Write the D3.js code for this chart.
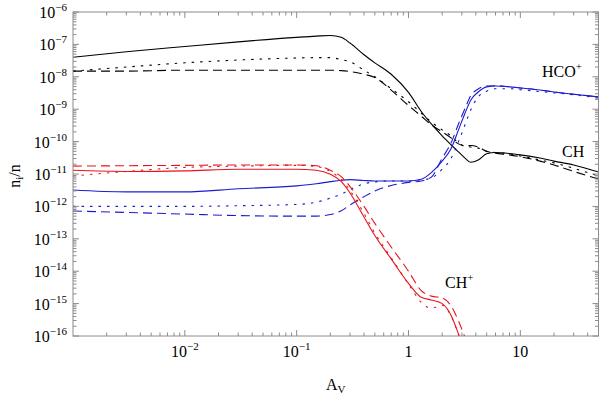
<!DOCTYPE html>
<html>
<head>
<meta charset="utf-8">
<script src="https://cdn.jsdelivr.net/npm/d3@7"></script>
<style>
  body { margin: 0; background: #fff; }
  text { font-family: "Liberation Serif", "DejaVu Serif", serif; fill: #000; }
</style>
</head>
<body>
<div id="chart"></div>
<script>
// ======================================
// Data
// ======================================
var avGrid = [0.001, 0.003, 0.01, 0.03, 0.1, 0.15, 0.2, 0.25, 0.3, 0.4, 0.5, 0.7, 1, 1.3, 1.6, 2,
  2.4, 2.8, 3.2, 3.6, 4.2, 5, 6, 8, 10, 15, 20, 30, 50];

// CH (black)
var chSolid = [4.0e-8, 5.9e-8, 8.6e-8, 1.2e-7, 1.65e-7, 1.8e-7, 1.88e-7, 1.65e-7, 1.1e-7, 4.8e-8, 2.7e-8, 1.2e-8, 3.3e-9, 8.5e-10, 3.5e-10, 1.5e-10,
  8e-11, 4.8e-11, 3.1e-11, 2.3e-11, 2.7e-11, 4.2e-11, 4.6e-11, 4.3e-11, 3.9e-11, 3.1e-11, 2.5e-11, 1.9e-11, 1.15e-11];
var chDotted = [1.5e-8, 2.0e-8, 2.7e-8, 3.3e-8, 3.8e-8, 3.9e-8, 3.9e-8, 3.4e-8, 2.9e-8, 1.6e-8, 1.0e-8, 4.3e-9, 1.7e-9, 7.6e-10, 4.0e-10, 2.3e-10,
  1.5e-10, 9e-11, 7.3e-11, 6.8e-11, 6.3e-11, 5e-11, 4.6e-11, 4.2e-11, 3.6e-11, 2.7e-11, 2.2e-11, 1.5e-11, 8.7e-12];
var chDashed = [1.5e-8, 1.5e-8, 1.6e-8, 1.6e-8, 1.6e-8, 1.6e-8, 1.6e-8, 1.55e-8, 1.45e-8, 1.2e-8, 9.5e-9, 3.9e-9, 1.3e-9, 6.1e-10, 3.3e-10, 2.0e-10,
  1.3e-10, 8.5e-11, 7.3e-11, 7.6e-11, 6.8e-11, 5e-11, 4.4e-11, 3.9e-11, 3.4e-11, 2.5e-11, 1.9e-11, 1.2e-11, 7e-12];

// HCO+ (blue)
var hcoSolid = [3.2e-12, 2.8e-12, 2.8e-12, 3.5e-12, 4.3e-12, 5e-12, 5.8e-12, 6.4e-12, 6.7e-12, 6.3e-12, 6.1e-12, 6.1e-12, 6.1e-12, 6.9e-12, 1.1e-11, 2.5e-11,
  6e-11, 2.3e-10, 7.5e-10, 1.9e-9, 3.4e-9, 4.9e-9, 5.2e-9, 4.9e-9, 4.5e-9, 3.9e-9, 3.4e-9, 2.9e-9, 2.4e-9];
var hcoDotted = [1e-12, 1e-12, 1e-12, 1.05e-12, 1.15e-12, 1.35e-12, 1.8e-12, 2.4e-12, 3.3e-12, 5e-12, 5.7e-12, 6.1e-12, 6.1e-12, 6.6e-12, 7.5e-12, 1.4e-11,
  3e-11, 1.0e-10, 3.3e-10, 9.5e-10, 2.4e-9, 3.6e-9, 4.3e-9, 4.3e-9, 4.0e-9, 3.5e-9, 3.2e-9, 2.8e-9, 2.2e-9];
var hcoDashed = [7.2e-13, 6.5e-13, 5.8e-13, 5.2e-13, 5e-13, 5e-13, 5.6e-13, 7.3e-13, 1.1e-12, 2.0e-12, 3.0e-12, 4.4e-12, 5.5e-12, 6.1e-12, 8e-12, 3.1e-11,
  9e-11, 3.5e-10, 1.05e-9, 2.6e-9, 4.2e-9, 5.2e-9, 5.3e-9, 4.9e-9, 4.5e-9, 3.9e-9, 3.4e-9, 2.9e-9, 2.4e-9];

// CH+ (red), null = below the plot
var chpSolid = [1.3e-11, 1.2e-11, 1.25e-11, 1.4e-11, 1.4e-11, 1.3e-11, 9.8e-12, 5.9e-12, 2.6e-12, 4.7e-13, 1.26e-13, 2.4e-14, 4.2e-15, 1.56e-15, 1.3e-15, 1.0e-15,
  4.4e-16, 1.15e-16, 3e-17, null, null, null, null, null, null, null, null, null, null];
var chpDotted = [8.7e-12, 1.2e-11, 1.6e-11, 1.75e-11, 1.85e-11, 1.7e-11, 1.2e-11, 6.8e-12, 3.1e-12, 6e-13, 1.5e-13, 2.6e-14, 4.0e-15, 1.1e-15, 7.2e-16, 9e-16,
  4.2e-16, 1.1e-16, 3e-17, null, null, null, null, null, null, null, null, null, null];
var chpDashed = [1.75e-11, 1.8e-11, 1.85e-11, 1.9e-11, 1.9e-11, 1.8e-11, 1.3e-11, 8.3e-12, 4.1e-12, 1.0e-12, 3.0e-13, 5.6e-14, 1.0e-14, 2.5e-15, 1.7e-15, 1.5e-15,
  8.5e-16, 2.9e-16, 9e-17, 3e-17, null, null, null, null, null, null, null, null, null];

// axis ticks
var xTickValues = [0.01, 0.1, 1, 10];
var xTickBase = ["10", "10", "1", "10"];
var xTickExp = ["\u22122", "\u22121", "", ""];
var yTickExps = [-6, -7, -8, -9, -10, -11, -12, -13, -14, -15, -16];

// ======================================
// Setup
// ======================================
var svgWidth = 600;
var svgHeight = 394;
var margin = { top: 12, right: 1.5, bottom: 58, left: 73 };
var width = svgWidth - margin.left - margin.right;
var height = svgHeight - margin.top - margin.bottom;

var frameColor = "#8c8c8c";
var colors = { black: "#000000", blue: "#1c1ccf", red: "#e8141c" };
var dashes = { solid: null, dotted: "2.5,6", dashed: "9,5" };

var series = [
  { values: chSolid, color: colors.black, style: "solid" },
  { values: chDotted, color: colors.black, style: "dotted" },
  { values: chDashed, color: colors.black, style: "dashed" },
  { values: hcoSolid, color: colors.blue, style: "solid" },
  { values: hcoDotted, color: colors.blue, style: "dotted" },
  { values: hcoDashed, color: colors.blue, style: "dashed" },
  { values: chpSolid, color: colors.red, style: "solid" },
  { values: chpDotted, color: colors.red, style: "dotted" },
  { values: chpDashed, color: colors.red, style: "dashed" }
];

var svg = d3.select("#chart")
  .append("svg")
  .attr("width", svgWidth)
  .attr("height", svgHeight);

var chartGroup = svg.append("g")
  .attr("transform", `translate(${margin.left}, ${margin.top})`);

var xScale = d3.scaleLog().domain([0.001, 50]).range([0, width]);
var yScale = d3.scaleLog().domain([1e-16, 1e-6]).range([height, 0]);

chartGroup.append("clipPath")
  .attr("id", "plot-clip")
  .append("rect")
  .attr("width", width)
  .attr("height", height);

// ======================================
// Curves
// ======================================
var line = d3.line()
  .defined(d => d.v != null)
  .x(d => xScale(d.av))
  .y(d => yScale(d.v))
  .curve(d3.curveMonotoneX);

var curveGroup = chartGroup.append("g").attr("clip-path", "url(#plot-clip)");

series.forEach(s => {
  var pts = avGrid.map((av, i) => ({ av: av, v: s.values[i] }));
  curveGroup.append("path")
    .datum(pts)
    .attr("fill", "none")
    .attr("stroke", s.color)
    .attr("stroke-width", 1.1)
    .attr("stroke-dasharray", dashes[s.style])
    .attr("d", line);
});

// ======================================
// Frame and ticks (Mathematica style, ticks inside)
// ======================================
chartGroup.append("rect")
  .attr("width", width)
  .attr("height", height)
  .attr("fill", "none")
  .attr("stroke", frameColor)
  .attr("stroke-width", 1);

var majorLen = 6;
var minorLen = 3.5;

// x ticks
var xMinor = [];
for (var e = -3; e <= 1; e++) {
  for (var k = 2; k <= 9; k++) {
    var v = k * Math.pow(10, e);
    if (v < 50) xMinor.push(v);
  }
}
var xTicks = xTickValues.map(v => ({ v: v, len: majorLen })).concat(xMinor.map(v => ({ v: v, len: minorLen })));

xTicks.forEach(t => {
  var x = xScale(t.v);
  chartGroup.append("line")
    .attr("x1", x).attr("x2", x).attr("y1", height).attr("y2", height - t.len)
    .attr("stroke", frameColor);
  chartGroup.append("line")
    .attr("x1", x).attr("x2", x).attr("y1", 0).attr("y2", t.len)
    .attr("stroke", frameColor);
});

// y ticks
var yMinor = [];
for (var e2 = -16; e2 < -6; e2++) {
  for (var k2 = 2; k2 <= 9; k2++) yMinor.push(k2 * Math.pow(10, e2));
}
var yTicks = yTickExps.map(p => ({ v: Math.pow(10, p), len: majorLen })).concat(yMinor.map(v => ({ v: v, len: minorLen })));

yTicks.forEach(t => {
  var y = yScale(t.v);
  chartGroup.append("line")
    .attr("x1", 0).attr("x2", t.len).attr("y1", y).attr("y2", y)
    .attr("stroke", frameColor);
  chartGroup.append("line")
    .attr("x1", width).attr("x2", width - t.len).attr("y1", y).attr("y2", y)
    .attr("stroke", frameColor);
});

// tick labels
xTickValues.forEach((v, i) => {
  var label = chartGroup.append("text")
    .attr("x", xScale(v))
    .attr("y", height + 21)
    .attr("text-anchor", "middle")
    .attr("font-size", 16);
  label.append("tspan").text(xTickBase[i]);
  if (xTickExp[i]) {
    label.append("tspan").attr("dy", -7).attr("font-size", 11).text(xTickExp[i]);
  }
});

yTickExps.forEach(p => {
  var label = chartGroup.append("text")
    .attr("x", -6)
    .attr("y", yScale(Math.pow(10, p)) + 6)
    .attr("text-anchor", "end")
    .attr("font-size", 16);
  label.append("tspan").text("10");
  label.append("tspan").attr("dy", -7).attr("font-size", 11).text("\u2212" + Math.abs(p));
});

// axis titles
var xTitle = svg.append("text")
  .attr("x", margin.left + width / 2)
  .attr("y", 390)
  .attr("text-anchor", "middle")
  .attr("font-size", 16);
xTitle.append("tspan").text("A");
xTitle.append("tspan").attr("dy", 3).attr("font-size", 11).text("V");

var yTitle = svg.append("text")
  .attr("transform", "translate(20, 176) rotate(-90)")
  .attr("text-anchor", "middle")
  .attr("font-size", 16);
yTitle.append("tspan").text("n");
yTitle.append("tspan").attr("dy", 3).attr("font-size", 11).text("i");
yTitle.append("tspan").attr("dy", -3).text("/n");

// curve labels
function speciesLabel(x, y, base, sup) {
  var t = svg.append("text").attr("x", x).attr("y", y).attr("font-size", 16);
  t.append("tspan").text(base);
  if (sup) t.append("tspan").attr("dy", -7).attr("font-size", 11).text(sup);
}
speciesLabel(542, 77, "HCO", "+");
speciesLabel(562, 157, "CH", "");
speciesLabel(445, 288, "CH", "+");
</script>
</body>
</html>
